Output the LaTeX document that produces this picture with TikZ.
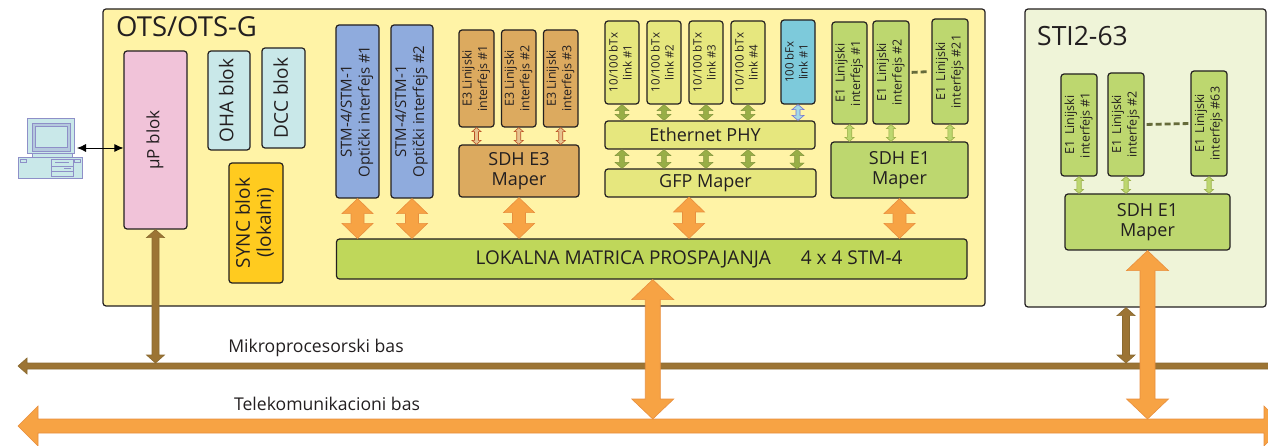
\documentclass[tikz,border=0pt]{standalone}
\usepackage{fontspec}
\usepackage{graphicx}
\setmainfont{Open Sans}
\usetikzlibrary{calc,arrows.meta}
\definecolor{otsbg}{HTML}{FFF3A6}
\definecolor{stibg}{HTML}{EFF4D8}
\definecolor{pinkc}{HTML}{F1C3D9}
\definecolor{aquac}{HTML}{C9E8E9}
\definecolor{syncc}{HTML}{FFCB1F}
\definecolor{bluec}{HTML}{8FABDD}
\definecolor{tanc}{HTML}{DCAA5F}
\definecolor{linkc}{HTML}{E6E77E}
\definecolor{fxc}{HTML}{7DCADB}
\definecolor{e1c}{HTML}{BDD76F}
\definecolor{matc}{HTML}{BFD75A}
\definecolor{orangec}{HTML}{F7A344}
\definecolor{orangel}{HTML}{E88F3E}
\definecolor{brownc}{HTML}{9C7434}
\definecolor{brownl}{HTML}{8A6A30}
\definecolor{olivec}{HTML}{98AE46}
\definecolor{iconl}{HTML}{8E8FC8}
\definecolor{inkc}{HTML}{231F20}
\definecolor{dashc}{HTML}{666B3A}
\tikzset{
  blk/.style={draw=inkc,line width=1.2pt,rounded corners=3pt,inner sep=0pt,text=inkc,align=center},
  orng/.style={fill=orangec,draw=orangel,line width=.6pt},
  brwn/.style={fill=brownc,draw=brownl,line width=.6pt},
  olv/.style={fill=olivec,draw=olivec!85!black,line width=.4pt},
  tanar/.style={fill=tanc!70!white,draw=brownc!70!red,line width=.6pt},
  lgr/.style={fill=e1c,draw=olivec,line width=.6pt},
  bluar/.style={fill=fxc!70!white,draw=iconl!80!blue,line width=.6pt},
  dsh/.style={draw=dashc,line width=2.8pt,dash pattern=on 6pt off 3pt,shorten >=2pt,shorten <=2pt},
  pcshape/.style={draw=iconl,line width=.9pt,fill=aquac},
  ttl/.style={font=\fontsize{26.5}{28}\selectfont,text=inkc,inner sep=0pt,anchor=west},
  buslab/.style={font=\fontsize{17.6}{19}\selectfont,text=inkc,inner sep=0pt},
  mapfont/.style={font=\fontsize{18}{20}\selectfont},
  barfont/.style={font=\fontsize{18}{20}\selectfont},
}
% box from corners: name, x1, y1, x2, y2, style, text
\newcommand\bx[7]{%
  \pgfmathsetmacro\bw{#4-#2}\pgfmathsetmacro\bh{#5-#3}%
  \pgfmathsetmacro\bcx{(#2+#4)/2}\pgfmathsetmacro\bcy{(#3+#5)/2}%
  \node[blk,#6,minimum width=\bw pt,minimum height=\bh pt] (#1) at (\bcx,\bcy) {#7};}
% double block arrow: style, end a, end b, shaft half, head half, head length
\newcommand\barrow[6]{%
  \coordinate (A@) at ($(#2)!#6pt!(#3)$);
  \coordinate (B@) at ($(#3)!#6pt!(#2)$);
  \draw[#1,line join=miter] (#2)
    -- ($(A@)!#5pt!90:(#3)$) -- ($(A@)!#4pt!90:(#3)$)
    -- ($(B@)!#4pt!-90:(#2)$) -- ($(B@)!#5pt!-90:(#2)$)
    -- (#3)
    -- ($(B@)!#5pt!90:(#2)$) -- ($(B@)!#4pt!90:(#2)$)
    -- ($(A@)!#4pt!-90:(#3)$) -- ($(A@)!#5pt!-90:(#3)$) -- cycle;}
\newcommand\rot[2]{\rotatebox{90}{\fontsize{#1}{#1}\selectfont\begin{tabular}{@{}c@{}}#2\end{tabular}}}
\begin{document}
\begin{tikzpicture}[x=1pt,y=-1pt]
\useasboundingbox (0,0) rectangle (1268,446);
\clip (0,0) rectangle (1268,446);
% containers
\bx{ots}{103}{9}{985}{306}{fill=otsbg}{}
\bx{sti}{1025}{9}{1266}{307}{fill=stibg}{}
\node[ttl,font=\fontsize{27.5}{28}\selectfont] (otst) at (116,27) {OTS/OTS-G};
\node[ttl] (stit) at (1037,36) {STI2-63};
% left column
\bx{up}{124}{51}{187}{229}{fill=pinkc}{\rot{17}{µP blok}}
\bx{oha}{208}{51}{250}{150}{fill=aquac}{\rot{19}{OHA blok}}
\bx{dcc}{262}{48}{305}{148}{fill=aquac}{\rot{19}{DCC blok}}
\bx{sync}{229}{163}{283}{283}{fill=syncc}{\rot{19}{SYNC blok\\[1pt](lokalni)}}
% STM
\bx{stma}{336}{25}{379}{198}{fill=bluec}{\rot{15}{STM-4/STM-1\\[2pt]Optički interfejs \#1}}
\bx{stmb}{391}{25}{433}{198}{fill=bluec}{\rot{15}{STM-4/STM-1\\[2pt]Optički interfejs \#2}}
% E3
\bx{ea}{459}{30}{494}{127}{fill=tanc}{\rot{12.5}{E3 Linijski\\[2pt]interfejs \#1}}
\bx{eb}{501.5}{30}{536}{127}{fill=tanc}{\rot{12.5}{E3 Linijski\\[2pt]interfejs \#2}}
\bx{ec}{543.5}{30}{578}{127}{fill=tanc}{\rot{12.5}{E3 Linijski\\[2pt]interfejs \#3}}
\bx{sdhe}{459}{145}{579}{197}{fill=tanc,mapfont}{SDH E3\\Maper}
% Ethernet
\bx{la}{605}{21}{639}{104}{fill=linkc}{\rot{11.5}{10/100 bTx\\[2pt]link \#1}}
\bx{lb}{647}{21}{681}{104}{fill=linkc}{\rot{11.5}{10/100 bTx\\[2pt]link \#2}}
\bx{lc}{689}{21}{723}{104}{fill=linkc}{\rot{11.5}{10/100 bTx\\[2pt]link \#3}}
\bx{ld}{731}{21}{765}{104}{fill=linkc}{\rot{11.5}{10/100 bTx\\[2pt]link \#4}}
\bx{lf}{781}{20}{815}{104}{fill=fxc}{\rot{11.5}{100 bFx\\[2pt]link \#1}}
\bx{phy}{605}{121}{815}{149}{fill=linkc,barfont}{\hspace*{-10pt}Ethernet PHY}
\bx{gfp}{605}{169}{816}{197}{fill=linkc,barfont}{\hspace*{-10pt}GFP Maper}
\coordinate (gfpe) at (797,169);
\coordinate (gfpm) at (689,197);
% E1
\bx{fa}{832}{22}{867}{124}{fill=e1c}{\rot{12.5}{E1\, Linijski\\[2pt]interfejs \#1}}
\bx{fb}{873}{21}{909}{124}{fill=e1c}{\rot{12.5}{E1\, Linijski\\[2pt]interfejs \#2}}
\bx{fc}{932}{19}{968}{124}{fill=e1c}{\rot{12.5}{E1\, Linijski\\[2pt]interfejs \#21}}
\bx{sdhf}{831}{142}{968}{198}{fill=e1c,mapfont}{SDH E1\\Maper}
% matrix
\bx{mat}{336.5}{239}{967}{279}{fill=matc}{}
\coordinate (matb) at ($(mat.south)+(1,0)$);
\node[inner sep=0pt,text=inkc,font=\fontsize{19}{21}\selectfont] (matl) at (689,259) {LOKALNA MATRICA PROSPAJANJA\hspace{30pt}4 x 4 STM-4};
% STI boxes
\bx{ga}{1061}{74}{1097}{176}{fill=e1c}{\rot{12.5}{E1\, Linijski\\[2pt]interfejs \#1}}
\bx{gb}{1108}{73}{1144}{176}{fill=e1c}{\rot{12.5}{E1\, Linijski\\[2pt]interfejs \#2}}
\bx{gc}{1191}{71}{1227}{176}{fill=e1c}{\rot{12.5}{E1\, Linijski\\[2pt]interfejs \#63}}
\bx{sdhg}{1065}{194}{1230}{250}{fill=e1c,mapfont}{SDH E1\\Maper}
% dashes
\draw[dsh] (fb.east) -- (fc.west);
\draw[dsh] (gb.east) -- (gc.west);
% buses
\coordinate (micL) at (18,366);
\coordinate (micR) at (1292,366);
\coordinate (telL) at (18,426);
\coordinate (telR) at (1284,426);
\coordinate (micT) at (0,363);
\coordinate (telT) at (0,419);
\barrow{brwn}{micL}{micR}{3}{8}{9}
\barrow{orng}{telL}{telR}{7}{20}{20}
\node[buslab] (micl) at (316,348) {Mikroprocesorski bas};
\node[buslab] (tell) at (327,404) {Telekomunikacioni bas};
% connectors: large
\barrow{orng}{stma.south}{stma.south |- mat.north}{6.5}{15.5}{15}
\barrow{orng}{stmb.south}{stmb.south |- mat.north}{6.5}{15.5}{15}
\barrow{orng}{sdhe.south}{sdhe.south |- mat.north}{6.5}{15.5}{15}
\barrow{orng}{gfpm}{gfpm |- mat.north}{6.5}{15.5}{15}
\barrow{orng}{sdhf.south}{sdhf.south |- mat.north}{6.5}{15.5}{15}
\barrow{orng}{matb}{matb |- telT}{7.5}{21}{20}
\barrow{orng}{sdhg.south}{sdhg.south |- telT}{7.5}{21}{20}
\barrow{brwn}{up.south}{up.south |- micT}{3.5}{9}{8}
\barrow{brwn}{gb.south |- sti.south}{gb.south |- micT}{3.5}{9}{8}
% connectors: small
\barrow{tanar}{ea.south}{ea.south |- sdhe.north}{2}{4.5}{4}
\barrow{tanar}{eb.south}{eb.south |- sdhe.north}{2}{4.5}{4}
\barrow{tanar}{ec.south}{ec.south |- sdhe.north}{2}{4.5}{4}
\barrow{olv}{la.south}{la.south |- phy.north}{2.4}{7}{6}
\barrow{olv}{lb.south}{lb.south |- phy.north}{2.4}{7}{6}
\barrow{olv}{lc.south}{lc.south |- phy.north}{2.4}{7}{6}
\barrow{olv}{ld.south}{ld.south |- phy.north}{2.4}{7}{6}
\barrow{bluar}{lf.south}{lf.south |- phy.north}{2}{6}{5}
\barrow{olv}{la.south |- phy.south}{la.south |- gfp.north}{2.4}{7}{6}
\barrow{olv}{lb.south |- phy.south}{lb.south |- gfp.north}{2.4}{7}{6}
\barrow{olv}{lc.south |- phy.south}{lc.south |- gfp.north}{2.4}{7}{6}
\barrow{olv}{ld.south |- phy.south}{ld.south |- gfp.north}{2.4}{7}{6}
\barrow{olv}{gfpe |- phy.south}{gfpe}{2.4}{7}{6}
\barrow{lgr}{fa.south}{fa.south |- sdhf.north}{2.2}{4.5}{4}
\barrow{lgr}{fb.south}{fb.south |- sdhf.north}{2.2}{4.5}{4}
\barrow{lgr}{fc.south}{fc.south |- sdhf.north}{2.2}{4.5}{4}
\barrow{lgr}{ga.south}{ga.south |- sdhg.north}{2.2}{4.5}{4}
\barrow{lgr}{gb.south}{gb.south |- sdhg.north}{2.2}{4.5}{4}
\barrow{lgr}{gc.south}{gc.south |- sdhg.north}{2.2}{4.5}{4}
% computer
\node[pcshape,inner sep=0pt,minimum width=47pt,minimum height=35pt] (mon) at (50.5,135.5) {};
\draw[pcshape,fill=iconl!35!aquac] (32,123) rectangle (70,151);
\draw[pcshape] (35,126) rectangle (67,147);
\draw[pcshape] (32,153) rectangle (72,157);
\node[pcshape,inner sep=0pt,minimum width=64pt,minimum height=21pt] (base) at (50,167.5) {};
\draw[pcshape,line width=.6pt] (51,159) rectangle (73,176);
\draw[iconl,line width=.6pt] (55,162) -- (69,162) (51,166) -- (73,166) (51,171) -- (73,171) (64,168) -- (71,168);
\draw[iconl,line width=.6pt] (20,159) rectangle (26,162) (74,159) rectangle (80,162);
\coordinate (pcport) at (77,148);
\draw[{Latex[length=9pt,width=8pt]}-{Latex[length=9pt,width=8pt]},draw=black,line width=.8pt] (pcport) -- (pcport -| up.west);
\end{tikzpicture}
\end{document}
